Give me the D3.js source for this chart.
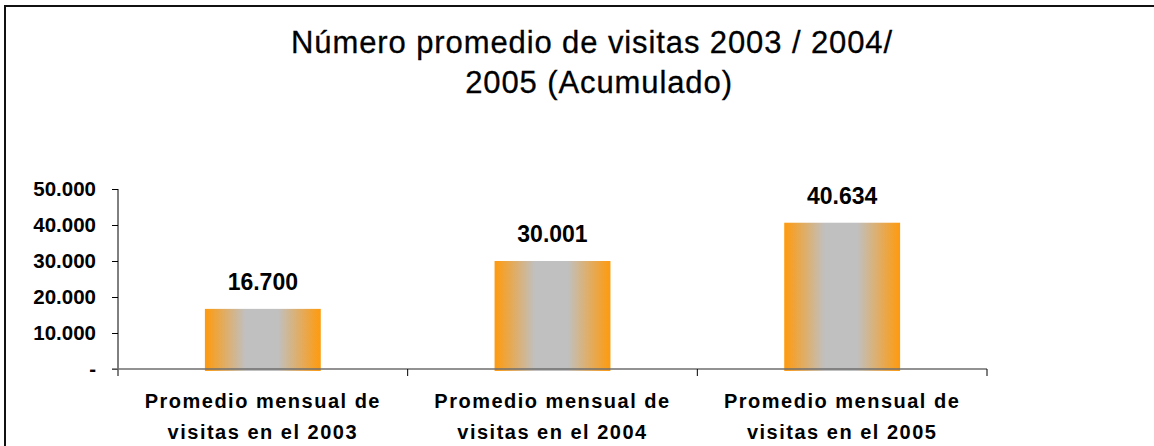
<!DOCTYPE html>
<html>
<head>
<meta charset="utf-8">
<script src="https://cdn.jsdelivr.net/npm/d3@7"></script>
<style>
  body { margin: 0; background: #fff; }
  text { font-family: "Liberation Sans", Arial, sans-serif; }
</style>
</head>
<body>
<div id="chart"></div>
<script>
// data
var categories = ["Promedio mensual de visitas en el 2003",
                  "Promedio mensual de visitas en el 2004",
                  "Promedio mensual de visitas en el 2005"];
var catLines = [["Promedio mensual de", "visitas en el 2003"],
                ["Promedio mensual de", "visitas en el 2004"],
                ["Promedio mensual de", "visitas en el 2005"]];
var visitas = [16700, 30001, 40634];
var yTicks = [0, 10000, 20000, 30000, 40000, 50000];
var titleLines = ["Número promedio de visitas 2003 / 2004/", "2005 (Acumulado)"];

var w = 1154, h = 446;
var margin = {left: 118, right: 167, top: 189, bottom: 77};
var titleX = [592, 599];

var svg = d3.select("#chart").append("svg")
    .attr("width", w)
    .attr("height", h);

// bar gradient: orange edges, grey middle
var grad = svg.append("defs").append("linearGradient")
    .attr("id", "barGrad")
    .attr("x1", "0%").attr("x2", "100%")
    .attr("y1", "0%").attr("y2", "0%");
grad.append("stop").attr("offset", "0%").attr("stop-color", "#ff9a0d");
grad.append("stop").attr("offset", "35%").attr("stop-color", "#c0c0c0");
grad.append("stop").attr("offset", "63%").attr("stop-color", "#c0c0c0");
grad.append("stop").attr("offset", "100%").attr("stop-color", "#ff9a0d");

// frame
svg.append("path")
    .attr("d", `M5,${h + 5} L5,6 L${w + 5},6`)
    .attr("fill", "none")
    .attr("stroke", "#111")
    .attr("stroke-width", 2);

// title
svg.append("g").selectAll("text")
    .data(titleLines)
    .enter().append("text")
    .attr("x", (d, i) => titleX[i])
    .attr("y", (d, i) => 53 + i * 40)
    .attr("text-anchor", "middle")
    .attr("font-size", 31)
    .attr("letter-spacing", 0.9)
    .attr("fill", "#000")
    .attr("stroke", "#000")
    .attr("stroke-width", 0.3)
    .text(d => d);

var x = d3.scaleBand()
    .domain(categories)
    .range([margin.left, w - margin.right])
    .paddingInner(0.6)
    .paddingOuter(0.3);

var y = d3.scaleLinear()
    .domain([0, 50000])
    .range([h - margin.bottom, margin.top]);

var locale = d3.formatLocale({decimal: ",", thousands: ".", grouping: [3], currency: ["", ""]});
var fmt = locale.format(",.0f");

// bars
svg.append("g").selectAll("rect")
    .data(visitas)
    .enter().append("rect")
    .attr("x", (d, i) => x(categories[i]))
    .attr("y", d => y(d))
    .attr("width", x.bandwidth())
    .attr("height", d => y(0) - y(d) + 2)
    .attr("fill", "url(#barGrad)");

// value labels
svg.append("g").selectAll("text")
    .data(visitas)
    .enter().append("text")
    .attr("x", (d, i) => x(categories[i]) + x.bandwidth() / 2)
    .attr("y", d => y(d) - 19)
    .attr("text-anchor", "middle")
    .attr("font-size", 23)
    .attr("font-weight", "bold")
    .text(d => fmt(d));

// y axis
var yAxis = d3.axisLeft(y)
    .tickValues(yTicks)
    .tickSize(6)
    .tickPadding(16)
    .tickFormat(d => d === 0 ? "-" : fmt(d));

var gy = svg.append("g")
    .attr("transform", `translate(${margin.left},0)`)
    .call(yAxis);
gy.select(".domain").remove();
gy.selectAll("line").attr("stroke", "#000");
gy.selectAll("text")
    .attr("font-size", 20.5)
    .attr("font-weight", "bold")
    .attr("fill", "#000")
    .attr("font-family", "Liberation Sans, Arial, sans-serif");
gy.append("line")
    .attr("x1", 0).attr("x2", 0)
    .attr("y1", y(50000)).attr("y2", y(0) + 7)
    .attr("stroke", "#000");

// x axis line and category separators
var gx = svg.append("g");
gx.append("line")
    .attr("x1", margin.left - 6).attr("x2", w - margin.right)
    .attr("y1", y(0)).attr("y2", y(0))
    .attr("stroke", "#6e6e6e")
    .attr("stroke-width", 1.5);
var bounds = d3.range(categories.length + 1).map(i => margin.left + i * x.step());
gx.selectAll(".sep")
    .data(bounds.slice(1))
    .enter().append("line")
    .attr("class", "sep")
    .attr("x1", d => d).attr("x2", d => d)
    .attr("y1", y(0)).attr("y2", y(0) + 7)
    .attr("stroke", "#000");

// category labels
var cl = svg.append("g").selectAll("text")
    .data(catLines)
    .enter().append("text")
    .attr("x", (d, i) => x(categories[i]) + x.bandwidth() / 2)
    .attr("text-anchor", "middle")
    .attr("font-size", 20)
    .attr("font-weight", "bold")
    .attr("letter-spacing", 1.5);
cl.selectAll("tspan")
    .data(d => d)
    .enter().append("tspan")
    .attr("x", function() { return d3.select(this.parentNode).attr("x"); })
    .attr("y", (d, i) => 408 + i * 31)
    .text(d => d);
</script>
</body>
</html>
